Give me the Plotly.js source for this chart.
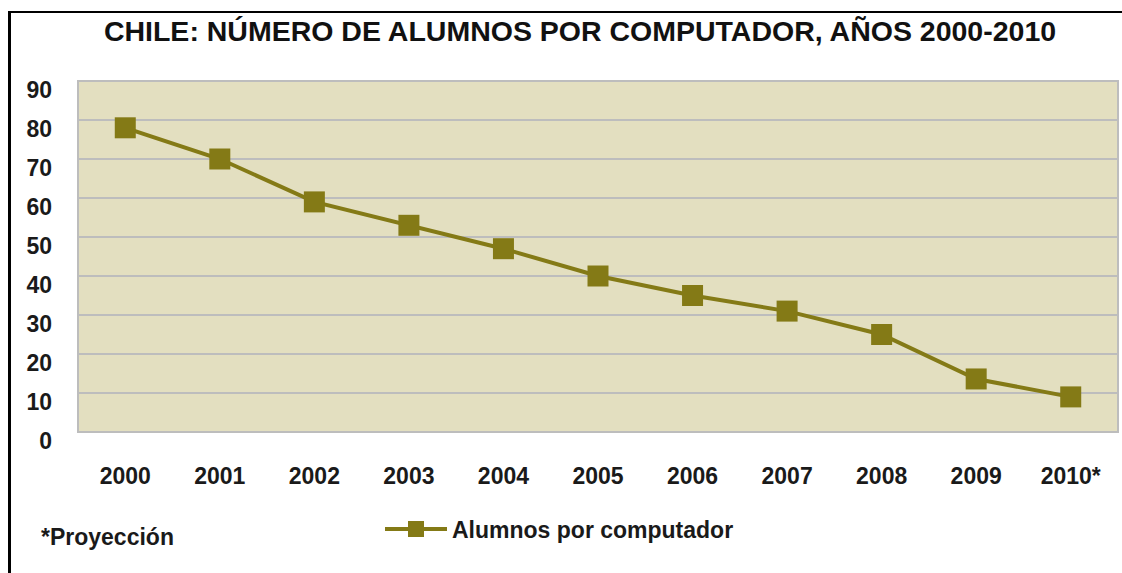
<!DOCTYPE html>
<html>
<head>
<meta charset="utf-8">
<script src="https://cdn.plot.ly/plotly-3.0.1.min.js"></script>
<style>
html,body{margin:0;padding:0;background:#fff;}
#frame{position:absolute;left:8px;top:11px;width:1114px;height:562px;border-left:3px solid #000;border-top:2px solid #000;box-sizing:border-box;pointer-events:none;z-index:10;}
#chart{width:1122px;height:573px;}
</style>
</head>
<body>
<div id="frame"></div>
<div id="chart"></div>
<script>
const years = ["2000","2001","2002","2003","2004","2005","2006","2007","2008","2009","2010*"];
const alumnosPorComputador = [78, 70, 59, 53, 47, 40, 35, 31, 25, 13.6, 9];
const seriesName = "Alumnos por computador";
const chartTitle = "CHILE: NÚMERO DE ALUMNOS POR COMPUTADOR, AÑOS 2000-2010";
const footnote = "*Proyección";
const yTicks = [0,10,20,30,40,50,60,70,80,90];

const sans = "Liberation Sans, Arial, sans-serif";
const olive = "#847A16";
const labelFont = {family: sans, size: 23, color: "#1a1a1a", weight: "bold"};

const trace = {
  x: years,
  y: alumnosPorComputador,
  type: "scatter",
  mode: "lines+markers",
  name: seriesName,
  line: {color: olive, width: 4},
  marker: {symbol: "square", size: 21, color: olive},
  hoverinfo: "x+y"
};

const layout = {
  width: 1122,
  height: 573,
  margin: {l: 78, r: 4, t: 81, b: 141},
  paper_bgcolor: "#ffffff",
  plot_bgcolor: "#E3DFC0",
  title: {
    text: chartTitle,
    font: {family: sans, size: 28.5, color: "#111", weight: "bold"},
    x: 580/1122, xanchor: "center", xref: "container",
    y: 1 - 31/573, yanchor: "middle", yref: "container"
  },
  xaxis: {
    type: "category",
    range: [-0.5, 10.5],
    showgrid: false,
    zeroline: false,
    showline: false,
    ticks: "",
    tickfont: labelFont,
    ticklabelstandoff: 28,
    fixedrange: true
  },
  yaxis: {
    range: [0, 90],
    tickvals: yTicks,
    ticktext: yTicks.map(String),
    showgrid: true,
    gridcolor: "#BDBDBD",
    gridwidth: 2,
    zeroline: false,
    showline: false,
    ticks: "",
    tickfont: labelFont,
    ticklabelstandoff: 25,
    ticklabelshift: 9,
    fixedrange: true
  },
  shapes: [{
    type: "rect", xref: "paper", yref: "paper", x0: 0, x1: 1, y0: 0, y1: 1,
    line: {color: "#BDBDBD", width: 2}, fillcolor: "rgba(0,0,0,0)", layer: "above"
  }],
  showlegend: true,
  legend: {
    orientation: "h",
    xref: "container", yref: "container",
    x: 380/1122, xanchor: "left",
    y: 1 - 529/573, yanchor: "middle",
    itemwidth: 62,
    font: labelFont,
    bgcolor: "rgba(0,0,0,0)"
  },
  annotations: [{
    text: footnote,
    xref: "paper", yref: "paper",
    x: (39-78)/1040, xanchor: "left",
    y: (432-537)/351, yanchor: "middle",
    showarrow: false,
    font: labelFont
  }]
};

Plotly.newPlot("chart", [trace], layout, {displayModeBar: false, staticPlot: true});
</script>
</body>
</html>
